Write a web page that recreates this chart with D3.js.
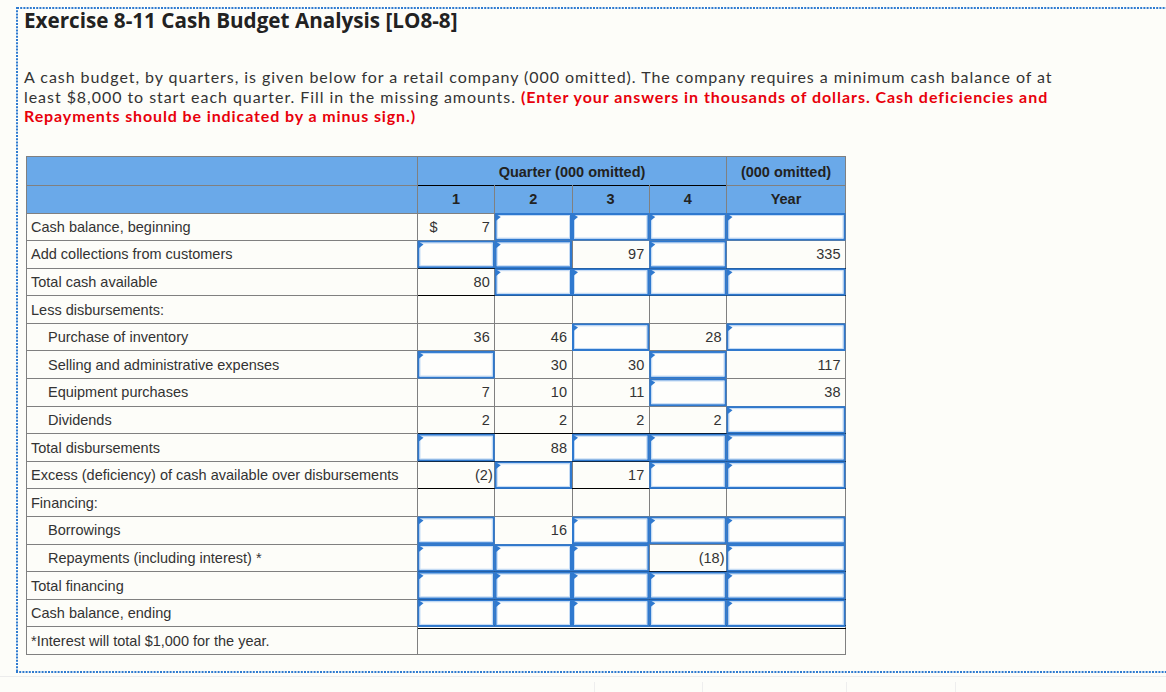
<!DOCTYPE html>
<html>
<head>
<meta charset="utf-8">
<script src="https://cdn.jsdelivr.net/npm/d3@7"></script>
<style>
  html, body { margin: 0; padding: 0; background: #fdfdf9; }
  svg { display: block; }
</style>
</head>
<body>
<svg id="chart" width="1166" height="692"></svg>
<script>
const title = "Exercise 8-11 Cash Budget Analysis [LO8-8]";
const introLine1 = "A cash budget, by quarters, is given below for a retail company (000 omitted). The company requires a minimum cash balance of at";
const introLine2 = "least $8,000 to start each quarter. Fill in the missing amounts. ";
const introLine2Red = "(Enter your answers in thousands of dollars. Cash deficiencies and";
const introLine3Red = "Repayments should be indicated by a minus sign.)";

const groupHeader = "Quarter (000 omitted)";
const yearHeader = "(000 omitted)";
const columns = ["1", "2", "3", "4", "Year"];

const rowLabels = [
  "Cash balance, beginning",
  "Add collections from customers",
  "Total cash available",
  "Less disbursements:",
  "Purchase of inventory",
  "Selling and administrative expenses",
  "Equipment purchases",
  "Dividends",
  "Total disbursements",
  "Excess (deficiency) of cash available over disbursements",
  "Financing:",
  "Borrowings",
  "Repayments (including interest) *",
  "Total financing",
  "Cash balance, ending"
];
const indented = [false, false, false, false, true, true, true, true, false, false, false, true, true, false, false];
const footnote = "*Interest will total $1,000 for the year.";

// null = answer box, "" = blank cell
const q1 = [7, null, 80, "", 36, null, 7, 2, null, -2, "", null, null, null, null];
const q2 = [null, null, null, "", 46, 30, 10, 2, 88, null, "", 16, null, null, null];
const q3 = [null, 97, null, "", null, 30, 11, 2, null, 17, "", null, null, null, null];
const q4 = [null, null, null, "", 28, null, null, 2, null, null, "", null, -18, null, null];
const year = [null, 335, null, "", null, 117, 38, null, null, null, "", null, null, null, null];
const dollarRows = [0];            // rows with "$" in column 1
const underlinedRows = [1, 2, 7, 8, 9, 12, 13]; // black rule under numeric cells
const doubleRuleRow = 14;

const values = { "1": q1, "2": q2, "3": q3, "4": q4, "Year": year };

const svg = d3.select("#chart");
const W = 1166, H = 692;
const gray = "#808080", ink = "#333333", red = "#e8000b", blue = "#2f79cf", headBg = "#6aa9e9";
const bodyFont = "'Liberation Sans', Arial, sans-serif";
const titleFont = "'Open Sans', Lato, sans-serif";
const textFont = "Lato, 'Open Sans', sans-serif";

const table = { left: 26, labelRight: 417.5, qRight: 726.5, right: 845.5, top: 156, head1: 185, head2: 213, bottom: 654.5 };

svg.append("rect").attr("width", W).attr("height", H).attr("fill", "#fdfdf9");

// dotted frame
const frame = svg.append("g").attr("stroke", "#2f7bd0").attr("stroke-width", 2).attr("stroke-dasharray", "2,1.2");
frame.append("line").attr("x1", 17).attr("x2", W).attr("y1", 8).attr("y2", 8);
frame.append("line").attr("x1", 17).attr("x2", 17).attr("y1", 7).attr("y2", 673);
frame.append("line").attr("x1", 16).attr("x2", W).attr("y1", 672).attr("y2", 672);
svg.append("line").attr("x1", 0).attr("x2", W).attr("y1", 676.5).attr("y2", 676.5).attr("stroke", "#ececec");
[594.5, 702.5, 846.5, 955.5].forEach(x =>
  svg.append("line").attr("x1", x).attr("x2", x).attr("y1", 682).attr("y2", H).attr("stroke", "#eeeeee"));

// title sized to the measured width
const t = svg.append("text").attr("x", 24).attr("y", 28).attr("font-family", titleFont)
  .attr("font-weight", 700).attr("font-size", 20).attr("fill", "#222").text(title);
t.attr("font-size", 20 * 434 / t.node().getComputedTextLength());

// intro lines: fixed size, letter-spacing nudged to the measured widths
function spread(sel, target) {
  const n = sel.text().length;
  const len = sel.node().getComputedTextLength();
  sel.attr("letter-spacing", (target - len) / n);
}
const l1 = svg.append("text").attr("x", 24).attr("y", 82.5).attr("font-family", textFont)
  .attr("font-size", 16).attr("fill", ink).text(introLine1);
spread(l1, 1028);
const l2 = svg.append("text").attr("x", 24).attr("y", 102.5).attr("font-family", textFont).attr("font-size", 16);
l2.append("tspan").attr("fill", ink).text(introLine2);
l2.append("tspan").attr("fill", red).attr("font-weight", 700).text(introLine2Red);
spread(l2, 1024);
const l3 = svg.append("text").attr("x", 24).attr("y", 122).attr("font-family", textFont).attr("font-size", 16)
  .attr("fill", red).attr("font-weight", 700).text(introLine3Red);
spread(l3, 392);

// scales
const xQ = d3.scaleBand().domain(columns.slice(0, 4)).range([table.labelRight, table.qRight]);
const colLeft = c => c === "Year" ? table.qRight : xQ(c);
const colWidth = c => c === "Year" ? table.right - table.qRight : xQ.bandwidth();
const y = d3.scaleBand().domain(d3.range(rowLabels.length + 1)).range([table.head2, table.bottom]);

// header
svg.append("rect").attr("x", table.left).attr("y", table.top)
  .attr("width", table.right - table.left).attr("height", table.head2 - table.top).attr("fill", headBg);
const hl = svg.append("g").attr("stroke", gray).attr("shape-rendering", "crispEdges");
hl.append("line").attr("x1", table.left).attr("x2", table.right).attr("y1", table.top).attr("y2", table.top);
hl.append("line").attr("x1", table.left).attr("x2", table.labelRight).attr("y1", table.head1).attr("y2", table.head1);
hl.append("line").attr("x1", table.qRight).attr("x2", table.right).attr("y1", table.head1).attr("y2", table.head1);
hl.append("line").attr("x1", table.labelRight).attr("x2", table.qRight).attr("y1", table.head1).attr("y2", table.head1).attr("stroke", "#000");
hl.selectAll(".hv").data(columns.slice(1, 4)).join("line")
  .attr("x1", d => xQ(d)).attr("x2", d => xQ(d)).attr("y1", table.head1).attr("y2", table.head2);

const headText = svg.append("g").attr("font-family", bodyFont).attr("font-weight", 700)
  .attr("font-size", 14.5).attr("fill", "#222").attr("text-anchor", "middle");
headText.append("text").attr("x", (table.labelRight + table.qRight) / 2).attr("y", 176.5).text(groupHeader);
headText.append("text").attr("x", (table.qRight + table.right) / 2).attr("y", 176.5).text(yearHeader);
headText.selectAll(".colh").data(columns).join("text")
  .attr("x", d => colLeft(d) + colWidth(d) / 2).attr("y", 204).text(d => d);

// body cells grid
const rows = d3.range(rowLabels.length);
const grid = svg.append("g").attr("stroke", gray).attr("shape-rendering", "crispEdges");
rows.concat([rowLabels.length]).forEach(i => {
  grid.append("line").attr("x1", table.left).attr("x2", table.right)
    .attr("y1", y(i) + y.bandwidth()).attr("y2", y(i) + y.bandwidth());
});
grid.append("line").attr("x1", table.left).attr("x2", table.right).attr("y1", table.head2).attr("y2", table.head2);
[table.left, table.labelRight, table.right].forEach(x =>
  grid.append("line").attr("x1", x).attr("x2", x).attr("y1", table.top).attr("y2", table.bottom));
grid.append("line").attr("x1", table.qRight).attr("x2", table.qRight).attr("y1", table.top).attr("y2", y(rowLabels.length));
columns.slice(1, 4).forEach(c =>
  grid.append("line").attr("x1", xQ(c)).attr("x2", xQ(c)).attr("y1", table.head2).attr("y2", y(rowLabels.length)));

// black rules under totals
const rules = svg.append("g").attr("stroke", "#000").attr("shape-rendering", "crispEdges");
underlinedRows.forEach(i => {
  const yy = y(i) + y.bandwidth();
  rules.append("line").attr("x1", table.labelRight).attr("x2", table.right).attr("y1", yy).attr("y2", yy);
});
const yd = y(doubleRuleRow) + y.bandwidth();
rules.append("line").attr("x1", table.labelRight).attr("x2", table.right).attr("y1", yd - 1.5).attr("y2", yd - 1.5);
rules.append("line").attr("x1", table.labelRight).attr("x2", table.right).attr("y1", yd + 1.5).attr("y2", yd + 1.5);

// row labels
const labels = svg.append("g").attr("font-family", bodyFont).attr("font-size", 14.5).attr("fill", ink);
labels.selectAll("text").data(rowLabels.concat([footnote])).join("text")
  .attr("x", (d, i) => indented[i] ? 48 : 31)
  .attr("y", (d, i) => y(i) + y.bandwidth() / 2 + 5)
  .text(d => d);

// cells
const cells = [];
columns.forEach(c => values[c].forEach((v, i) => cells.push({ col: c, row: i, v })));

const boxes = svg.append("g");
cells.filter(d => d.v === null).forEach(d => {
  const x0 = colLeft(d.col), y0 = y(d.row), w = colWidth(d.col), h = y.bandwidth();
  boxes.append("rect").attr("x", x0 + 1).attr("y", y0 + 1).attr("width", w - 2).attr("height", h - 2)
    .attr("fill", "#fefefc").attr("stroke", blue).attr("stroke-width", 2);
  boxes.append("rect").attr("x", x0 + 2.5).attr("y", y0 + 2.5).attr("width", w - 5).attr("height", h - 5)
    .attr("fill", "none").attr("stroke", "#c4dbf5").attr("stroke-width", 1);
  boxes.append("path").attr("d", `M${x0 + 1},${y0 + 1}L${x0 + 6},${y0 + 4}L${x0 + 1},${y0 + 8}Z`).attr("fill", blue);
});

const fmt = v => v < 0 ? `(${-v})` : `${v}`;
const nums = svg.append("g").attr("font-family", bodyFont).attr("font-size", 14.5).attr("fill", ink);
nums.selectAll("text").data(cells.filter(d => d.v !== null && d.v !== "")).join("text")
  .attr("text-anchor", "end")
  .attr("x", d => colLeft(d.col) + colWidth(d.col) - (d.v < 0 ? 2 : 5))
  .attr("y", d => y(d.row) + y.bandwidth() / 2 + 5)
  .text(d => fmt(d.v));
nums.selectAll(".dollar").data(dollarRows).join("text")
  .attr("x", colLeft("1") + 12).attr("y", d => y(d) + y.bandwidth() / 2 + 5).text("$");
</script>
</body>
</html>
